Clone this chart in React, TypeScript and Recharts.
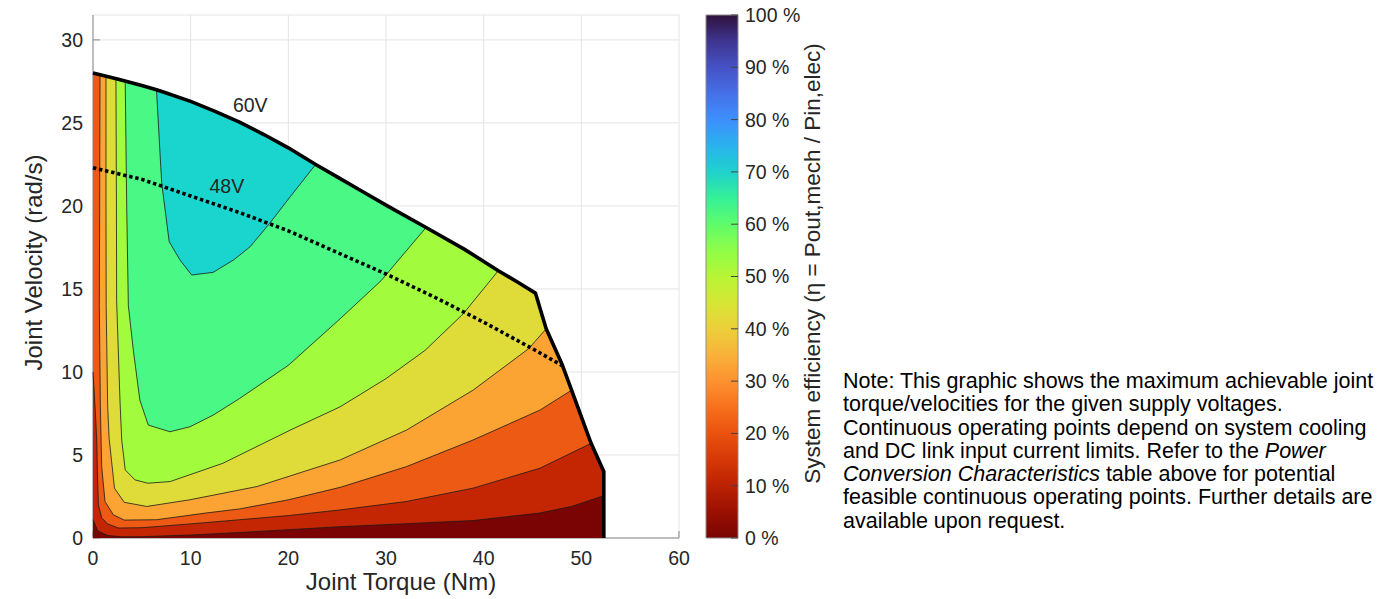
import { ScatterChart, Scatter, XAxis, YAxis, CartesianGrid, ReferenceDot, BarChart, Bar } from "recharts";

type Pt = [number, number];

// operating limit at 60 V supply: [torque Nm, velocity rad/s]
const envelope60V: Pt[] = [
  [0, 28.0], [2.5, 27.65], [5, 27.25], [6.5, 27.0], [7.5, 26.8], [10, 26.3], [12.5, 25.7], [15, 25.05],
  [17.5, 24.3], [20, 23.5], [22.8, 22.5], [25, 21.75], [27.5, 20.9], [30, 20.05], [34.1, 18.7], [38, 17.4],
  [41.5, 16.1], [43.5, 15.4], [45.3, 14.75], [46.4, 12.6], [48, 10.5], [49, 8.9], [51, 5.7], [52.3, 4.0], [52.3, 0],
];

// operating limit at 48 V supply
const limit48V: Pt[] = [
  [0, 22.3], [5, 21.6], [10, 20.6], [15, 19.6], [20, 18.5], [25, 17.2], [30, 15.9],
  [35, 14.5], [40, 13.0], [45, 11.4], [48, 10.4],
];

// efficiency iso-lines, each from its upper/left end to where it meets the limit
const iso10: Pt[] = [
  [0, 1.1], [0.5, 0.42], [1.5, 0.15], [3, 0.07], [5, 0.08], [10, 0.18], [15, 0.33], [20, 0.5],
  [25.3, 0.68], [32, 0.86], [38.9, 1.05], [45.7, 1.5], [49, 1.9], [52.3, 2.55],
];
const iso20: Pt[] = [
  [0, 10], [0.25, 7.5], [0.38, 5.9], [0.45, 4.0], [0.55, 2.0], [0.9, 1.2], [1.5, 0.85], [2.6, 0.6],
  [5, 0.62], [10, 0.85], [15, 1.1], [20, 1.35], [25.3, 1.69], [32.1, 2.2], [38.9, 3.0], [45.75, 4.2], [51, 5.7],
];
const iso30: Pt[] = [
  [0.72, 27.9], [0.68, 20], [0.65, 14], [0.75, 8], [0.89, 4.3], [1.23, 2.2], [2.08, 1.4], [3.2, 1.08],
  [6.5, 1.1], [11.5, 1.5], [15, 1.75], [20, 2.3], [25.3, 3.05], [32.1, 4.3], [38.9, 5.9], [45.75, 7.7], [49, 8.9],
];
const iso40: Pt[] = [
  [1.33, 27.81], [1.33, 20], [1.35, 14], [1.5, 8], [1.65, 6], [2.2, 3.0], [3.2, 2.15], [5.5, 1.9],
  [9.9, 2.3], [16.8, 3.1], [25.3, 4.7], [32.1, 6.5], [38.9, 8.9], [44.6, 11.4], [46.4, 12.6],
];
const iso50: Pt[] = [
  [2.35, 27.67], [2.4, 20], [2.42, 14.3], [2.76, 8.3], [2.94, 5.9], [3.3, 4.1], [4.3, 3.5], [5.6, 3.3],
  [7.9, 3.4], [13.3, 4.5], [20.2, 6.5], [25.3, 7.9], [30, 9.6], [34, 11.3], [37.9, 13.5], [41.5, 16.1],
];
const iso60: Pt[] = [
  [3.3, 27.52], [3.45, 20], [3.62, 14], [4.13, 11.3], [4.8, 8.3], [5.66, 6.8], [7.88, 6.4], [9.93, 6.7],
  [12.3, 7.4], [15, 8.4], [20, 10.4], [25.3, 13.2], [29.5, 15.5], [34.1, 18.7],
];
const iso70: Pt[] = [
  [6.5, 27.0], [7.03, 21.4], [7.8, 17.85], [8.9, 16.75], [10.1, 15.84], [12.3, 16.0], [14.4, 16.75],
  [16.1, 17.55], [18.1, 18.96], [20.2, 20.56], [22.8, 22.5],
];

const ISO_LINES = [iso10, iso20, iso30, iso40, iso50, iso60, iso70];
// band fill, 0-10 % ... 70-80 %
const BAND_COLORS = ["#7a0403", "#c42503", "#ec5a13", "#fba433", "#dfdc3a", "#a2fb3d", "#4af886", "#19d5cd"];

const X_TICKS = [0, 10, 20, 30, 40, 50, 60];
const Y_TICKS = [0, 5, 10, 15, 20, 25, 30];
const CB_TICKS = [0, 10, 20, 30, 40, 50, 60, 70, 80, 90, 100];
const CB_STOPS: [number, string][] = [
  [0, "#7a0403"], [0.05, "#9a1002"], [0.1, "#bb2203"], [0.15, "#d63807"], [0.2, "#e9520f"],
  [0.25, "#f7701c"], [0.3, "#fd9230"], [0.35, "#f9b23a"], [0.4, "#eccf3a"], [0.45, "#d6e635"],
  [0.5, "#b7f535"], [0.55, "#8ffd48"], [0.6, "#5efc6b"], [0.65, "#35f098"], [0.7, "#1fd2cc"],
  [0.75, "#2ab2ee"], [0.8, "#3d8ffd"], [0.85, "#4670e8"], [0.9, "#4552c4"], [0.95, "#3e3590"], [1, "#30123b"],
];
const VOLTAGE_LABELS = [
  { name: "60V", x: 16.1, y: 26.05 },
  { name: "48V", x: 13.7, y: 21.2 },
];

const FONT = '"Liberation Sans", Arial, Helvetica, sans-serif';
const TXT = "#262626";

const toXY = (pts: Pt[]) => pts.map(([x, y]) => ({ x, y }));
const noDot = () => <g />;

// part of the 60 V limit that closes an iso-line region, walked back to its start
function limitArc(line: Pt[]) {
  const [sx] = line[0];
  const [ex, ey] = line[line.length - 1];
  return envelope60V
    .filter(([x, y]) => (x > sx || (sx === 0 && x === 0)) && (x < ex || (x === ex && y > ey)))
    .reverse();
}

const regions: Pt[][] = [
  [...envelope60V, [0, 0]],
  ...ISO_LINES.map((l) => [...l, ...limitArc(l)]),
];

function Note() {
  return (
    <div style={{ position: "absolute", left: 843, top: 370, fontSize: 21.5, lineHeight: "23.3px", color: "#000", whiteSpace: "nowrap" }}>
      Note: This graphic shows the maximum achievable joint<br />
      torque/velocities for the given supply voltages.<br />
      Continuous operating points depend on system cooling<br />
      and DC link input current limits. Refer to the <i>Power</i><br />
      <i>Conversion Characteristics</i> table above for potential<br />
      feasible continuous operating points. Further details are<br />
      available upon request.
    </div>
  );
}

export default function App() {
  const tick = { fill: TXT, fontSize: 19.5 };
  return (
    <div style={{ position: "absolute", left: 0, top: 0, width: 1391, height: 599, background: "#fff", fontFamily: FONT }}>
      <div style={{ position: "absolute", left: 0, top: 0 }}>
        <ScatterChart width={700} height={599} margin={{ top: 15, right: 21, bottom: 9, left: 0 }}>
          <CartesianGrid stroke="#e4e4e4" />
          <XAxis
            type="number" dataKey="x" domain={[0, 60]} ticks={X_TICKS} height={52}
            axisLine={{ stroke: "#8a8a8a" }} tickLine={{ stroke: "#8a8a8a" }} tickSize={-7} tickMargin={20.5} tick={tick}
            label={{ value: "Joint Torque (Nm)", position: "insideBottom", offset: 0, dx: 15, fill: TXT, fontSize: 24 }}
          />
          <YAxis
            type="number" dataKey="y" domain={[0, 31.5]} ticks={Y_TICKS} width={93}
            axisLine={{ stroke: "#8a8a8a" }} tickLine={{ stroke: "#8a8a8a" }} tickSize={-7} tickMargin={17} tick={tick}
            label={{ value: "Joint Velocity (rad/s)", angle: -90, position: "insideLeft", offset: 33, dy: -14, fill: TXT, fontSize: 24, style: { textAnchor: "middle" } }}
          />
          {regions.map((r, i) => (
            <Scatter key={"band" + i} data={toXY(r)} line={{ fill: BAND_COLORS[i], stroke: "none" }} shape={noDot} isAnimationActive={false} />
          ))}
          {ISO_LINES.map((l, i) => (
            <Scatter key={"iso" + i} data={toXY(l)} line={{ stroke: "#1a1a1a", strokeWidth: 0.8 }} shape={noDot} isAnimationActive={false} />
          ))}
          <Scatter data={toXY(limit48V)} line={{ stroke: "#000", strokeWidth: 3.6, strokeDasharray: "3.4 2.8" }} shape={noDot} isAnimationActive={false} />
          <Scatter data={toXY(envelope60V)} line={{ stroke: "#000", strokeWidth: 3.6, strokeLinejoin: "round" }} shape={noDot} isAnimationActive={false} />
          {VOLTAGE_LABELS.map((v) => (
            <ReferenceDot key={v.name} x={v.x} y={v.y} r={0} fill="none" stroke="none"
              label={{ value: v.name, position: "center", fill: TXT, fontSize: 19.5 }} />
          ))}
        </ScatterChart>
      </div>
      <div style={{ position: "absolute", left: 700, top: 0 }}>
        <BarChart width={186} height={599} data={[{ name: "eff", value: 100 }]} margin={{ top: 15, right: 0, bottom: 61, left: 6 }} barCategoryGap={0}>
          <defs>
            <linearGradient id="turbo" x1="0" y1="1" x2="0" y2="0">
              {CB_STOPS.map(([o, c]) => <stop key={o} offset={o} stopColor={c} />)}
            </linearGradient>
          </defs>
          <XAxis dataKey="name" hide />
          <YAxis
            orientation="right" width={148} domain={[0, 100]} ticks={CB_TICKS} tickFormatter={(v) => `${v} %`}
            axisLine={false} tickLine={{ stroke: "#444" }} tickSize={-7} tickMargin={14} tick={tick}
            label={{ value: "System efficiency (η = Pout,mech / Pin,elec)", angle: -90, position: "insideLeft", offset: 74, dy: -13, fill: TXT, fontSize: 22.5, style: { textAnchor: "middle" } }}
          />
          <Bar dataKey="value" fill="url(#turbo)" stroke="#8c8c8c" isAnimationActive={false} />
        </BarChart>
      </div>
      <Note />
    </div>
  );
}
